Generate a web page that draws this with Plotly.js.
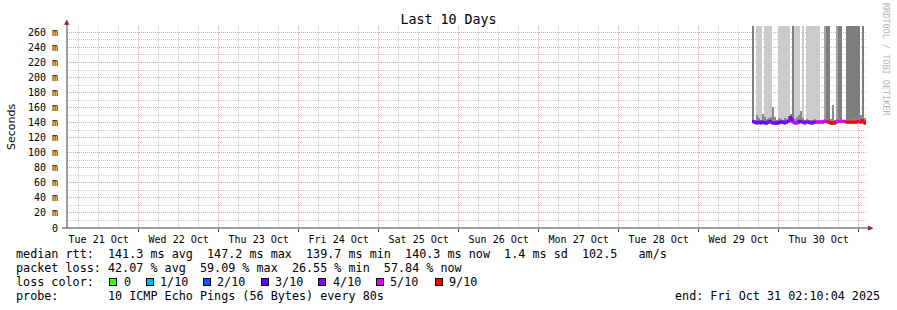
<!DOCTYPE html>
<html><head><meta charset="utf-8">
<script src="https://cdn.plot.ly/plotly-3.0.1.min.js"></script>
<style>html,body{margin:0;padding:0;background:#fff}</style>
</head><body><div id="chart" style="width:897px;height:310px"></div>
<script>
// ---- data ----
const bucketStartUTC = [2025, 9, 29, 16, 0];   // first bucket: 29 Oct 16:00
const bucketMinutes = 36;
// tall smoke shade per bucket: 0 none, 1 light, 2 mid, 3 dark
const smokeShade = [3,0,1,1,1,0,1,1,1,1, 0,0,0,1,1,1,1,1,1,0, 3,1,1,1,0,1,0,1,1,1, 1,1,1,1,0,0,2,3,3,0, 0,0,2,3,3,0,0,3,3,3, 3,3,3,3,0,3,0];
const smokeTallBase = 143;
const smokeTallTop = 300;
// low smoke (spread of pings near the median), top in ms
const smokeLowTop = [146,144,150,146,144,152,147,145,146,148, 161,147,144,146,145,144,146,145,148,152, 146,145,147,150,155,146,144,145,143,144, 143,145,144,143,143,144,145,146,144,145, 163,144,145,146,144,143,144,145,144,145, 144,146,145,147,150,149,146];
const medianMs = [142,141,140,141,140,141,140,139.5,141,142, 140,140,139.5,140,141,141,140,141,142,147, 142,140,140,141,142,141,140,141,141,140, 140,141,141,141,141,141,142,142,141,140, 139.5,140,141,142,142,142,142,141,141,141, 141,141,141,142,141,143,140];
const lossTenths = [4,4,4,4,3,3,3,4,4,4, 4,4,4,3,3,3,4,4,4,4, 4,5,5,4,4,4,4,4,4,4, 4,4,5,5,5,5,5,5,9,9, 9,9,5,5,5,5,5,9,9,9, 9,9,9,5,9,9,9];
const lossLevels = [0, 1, 2, 3, 4, 5, 9];
const lossLabels = ['0', '1/10', '2/10', '3/10', '4/10', '5/10', '9/10'];
const lossColors = ['#26ff00', '#00b8ff', '#0059ff', '#5e00ff', '#7e00ff', '#dd00ff', '#ff0000'];
const shadeColors = {1: '#cbcbcb', 2: '#a2a2a2', 3: '#7e7e7e'};
const lowSmokeColor = '#8a8a8a';
const yTickVals = [0, 20, 40, 60, 80, 100, 120, 140, 160, 180, 200, 220, 240, 260];
const yTickText = ['0', '20 m', '40 m', '60 m', '80 m', '100 m', '120 m', '140 m', '160 m', '180 m', '200 m', '220 m', '240 m', '260 m'];
const statLines = [
  'median rtt:  141.3 ms avg  147.2 ms max  139.7 ms min  140.3 ms now  1.4 ms sd  102.5   am/s',
  'packet loss: 42.07 % avg  59.09 % max  26.55 % min  57.84 % now',
  'loss color:',
  'probe:       10 ICMP Echo Pings (56 Bytes) every 80s'
];
const endText = 'end: Fri Oct 31 02:10:04 2025';
const titleText = 'Last 10 Days';
const yTitle = 'Seconds';
const watermark = 'RRDTOOL / TOBI OETIKER';
const xRange = ['2025-10-21 02:30', '2025-10-31 02:30'];

// ---- build ----
const step = bucketMinutes * 60000;
const t0 = Date.UTC(...bucketStartUTC);
const n = medianMs.length;
const traces = [];

// tall smoke
[1, 2, 3].forEach(s => {
  const xs = [], ys = [];
  for (let i = 0; i < n; i++) if (smokeShade[i] === s) { xs.push(t0 + (i + 0.5) * step); ys.push(smokeTallTop - smokeTallBase); }
  traces.push({type: 'bar', x: xs, y: ys, base: smokeTallBase, width: step, marker: {color: shadeColors[s], line: {width: 0}}, hoverinfo: 'skip', showlegend: false});
});
// low smoke
{
  const xs = [], ys = [], bs = [];
  for (let i = 0; i < n; i++) { xs.push(t0 + (i + 0.5) * step); bs.push(medianMs[i] - 3); ys.push(smokeLowTop[i] - (medianMs[i] - 3)); }
  traces.push({type: 'bar', x: xs, y: ys, base: bs, width: step, marker: {color: lowSmokeColor, line: {width: 0}}, hoverinfo: 'skip', showlegend: false});
}
// median line coloured by loss
lossLevels.forEach((lv, k) => {
  const xs = [], ys = [];
  for (let i = 0; i < n; i++) {
    if (lossTenths[i] !== lv) continue;
    const prev = i > 0 ? medianMs[i - 1] : medianMs[i];
    xs.push(t0 + i * step, t0 + i * step, t0 + (i + 1) * step, null);
    ys.push(prev, medianMs[i], medianMs[i], null);
  }
  if (xs.length) traces.push({type: 'scatter', mode: 'lines', x: xs, y: ys, line: {color: lossColors[k], width: 3}, connectgaps: false, hoverinfo: 'skip', showlegend: false});
});

// layout helpers
const L = 67, R = 30, T = 26, B = 82, W = 897, H = 310;
const pw = W - L - R, ph = H - T - B;
const px = v => (v - L) / pw;
const py = v => (H - B - v) / ph;
const mono = 'DejaVu Sans Mono';
const nb = s => s.replace(/ /g, '\u00a0');

const annotations = [];
const lineY = [254, 268, 282, 296];
statLines.forEach((s, i) => annotations.push({xref: 'paper', yref: 'paper', x: px(14), y: py(lineY[i]), xanchor: 'left', yanchor: 'middle', text: nb(s), showarrow: false, font: {family: mono, size: 11.75, color: '#000'}}));
annotations.push({xref: 'paper', yref: 'paper', x: px(882), y: py(296), xanchor: 'right', yanchor: 'middle', text: nb(endText), showarrow: false, font: {family: mono, size: 11.75, color: '#000'}});
const sqLeft = [109, 146, 203, 261, 318, 376, 435];
const lbLeft = [122, 158, 215, 273, 331, 388, 447];
lossLabels.forEach((lb, k) => {
  annotations.push({xref: 'paper', yref: 'paper', x: px(sqLeft[k]), y: py(282), xanchor: 'left', yanchor: 'middle', text: '\u00a0', showarrow: false, font: {size: 1}, width: 6, height: 6, bgcolor: lossColors[k], bordercolor: '#000', borderwidth: 1, borderpad: 0});
  annotations.push({xref: 'paper', yref: 'paper', x: px(lbLeft[k]), y: py(282), xanchor: 'left', yanchor: 'middle', text: lb, showarrow: false, font: {family: mono, size: 11.75, color: '#000'}});
});
// watermark
annotations.push({xref: 'paper', yref: 'paper', x: px(886), y: py(59), xanchor: 'center', yanchor: 'middle', text: watermark, textangle: 90, showarrow: false, font: {family: mono, size: 8.5, color: '#b4b4b4'}});
// arrow heads
annotations.push({xref: 'paper', yref: 'paper', x: 0, y: py(22), xanchor: 'center', yanchor: 'middle', text: '\u25B2', showarrow: false, font: {family: 'DejaVu Sans', size: 7, color: '#803131'}});
annotations.push({xref: 'paper', yref: 'paper', x: px(871), y: 0, xanchor: 'center', yanchor: 'middle', text: '\u25B6', showarrow: false, font: {family: 'DejaVu Sans', size: 7, color: '#803131'}});

const shapes = [
  {type: 'line', xref: 'paper', yref: 'paper', x0: 0, x1: 0, y0: 0, y1: py(24), line: {color: '#404040', width: 1}, layer: 'above'},
  {type: 'line', xref: 'paper', yref: 'paper', x0: px(62), x1: px(869), y0: 0, y1: 0, line: {color: '#404040', width: 1}, layer: 'above'}
];

const layout = {
  width: W, height: H,
  margin: {l: L, r: R, t: T, b: B, pad: 0},
  paper_bgcolor: '#ffffff', plot_bgcolor: '#ffffff',
  barmode: 'overlay', bargap: 0, showlegend: false,
  title: {text: titleText, x: 0.5, xref: 'container', xanchor: 'center', y: 1 - 19 / H, yref: 'container', yanchor: 'middle', font: {family: mono, size: 13.3, color: '#000'}},
  xaxis: {
    type: 'date', range: xRange, fixedrange: true,
    tick0: '2025-10-21 00:00', dtick: 86400000, ticklabelmode: 'period', tickformat: '%a %d %b',
    showgrid: true, gridcolor: '#f0a1a1', griddash: '1px,1px', gridwidth: 1,
    minor: {dtick: 21600000, showgrid: true, gridcolor: '#cfcfcf', griddash: '1px,1px', gridwidth: 1, ticks: ''},
    ticks: 'outside', ticklen: 3, tickcolor: '#404040',
    tickfont: {family: mono, size: 10, color: '#000'}, ticklabelstandoff: -1,
    showline: false, zeroline: false
  },
  yaxis: {
    range: [0, 268.5], fixedrange: true,
    tickvals: yTickVals, ticktext: yTickText,
    showgrid: true, gridcolor: '#f0a1a1', griddash: '1px,1px', gridwidth: 1,
    minor: {dtick: 10, showgrid: true, gridcolor: '#cfcfcf', griddash: '1px,1px', gridwidth: 1, ticks: ''},
    ticks: '', tickfont: {family: mono, size: 10, color: '#000'}, ticklabelstandoff: 8,
    title: {text: yTitle, font: {family: 'DejaVu Sans', size: 11, color: '#000'}, standoff: 10},
    showline: false, zeroline: false
  },
  annotations: annotations,
  shapes: shapes
};

Plotly.newPlot('chart', traces, layout, {displayModeBar: false, staticPlot: true});
</script>
</body></html>
